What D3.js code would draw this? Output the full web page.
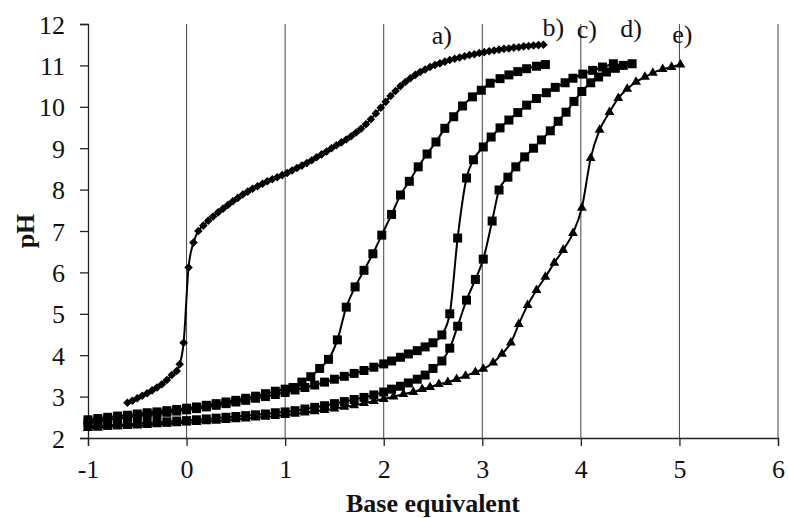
<!DOCTYPE html>
<html>
<head>
<meta charset="utf-8">
<script src="https://cdn.jsdelivr.net/npm/d3@7"></script>
<style>
  body { margin: 0; background: #fff; }
  text { font-family: "Liberation Serif", "Times New Roman", serif; fill: #111; }
</style>
</head>
<body>
<script>
// tick values
var xTicks = [-1, 0, 1, 2, 3, 4, 5, 6];
var yTicks = [2, 3, 4, 5, 6, 7, 8, 9, 10, 11, 12];

// curve labels
var labels = ["a)", "b)", "c)", "d)", "e)"];

// a) diamonds  [base equivalent, pH]
var seriesA = [
  [-0.60, 2.85], [-0.55, 2.90], [-0.50, 2.96], [-0.45, 3.02], [-0.40, 3.08], [-0.35, 3.15],
  [-0.30, 3.22], [-0.25, 3.30], [-0.20, 3.40], [-0.15, 3.52], [-0.10, 3.62], [-0.07, 3.78],
  [-0.03, 4.30], [0.02, 6.12], [0.07, 6.72], [0.12, 7.00], [0.17, 7.13], [0.22, 7.25],
  [0.27, 7.35], [0.32, 7.45], [0.37, 7.54], [0.42, 7.63], [0.47, 7.72], [0.52, 7.80],
  [0.57, 7.88], [0.62, 7.95], [0.67, 8.02], [0.72, 8.08], [0.77, 8.14], [0.82, 8.20],
  [0.87, 8.25], [0.92, 8.30], [0.97, 8.35], [1.02, 8.40], [1.07, 8.46], [1.12, 8.52],
  [1.17, 8.58], [1.22, 8.64], [1.27, 8.71], [1.32, 8.78], [1.37, 8.85], [1.42, 8.92],
  [1.47, 9.00], [1.52, 9.07], [1.57, 9.14], [1.62, 9.21], [1.67, 9.29], [1.72, 9.38],
  [1.77, 9.47], [1.82, 9.58], [1.87, 9.70], [1.92, 9.84], [1.97, 9.98], [2.02, 10.12],
  [2.07, 10.26], [2.12, 10.38], [2.17, 10.50], [2.22, 10.60], [2.27, 10.69], [2.32, 10.77],
  [2.37, 10.84], [2.42, 10.90], [2.47, 10.96], [2.52, 11.01], [2.57, 11.05], [2.62, 11.09],
  [2.67, 11.13], [2.72, 11.16], [2.77, 11.19], [2.82, 11.22], [2.87, 11.25], [2.92, 11.27],
  [2.97, 11.30], [3.02, 11.32], [3.07, 11.34], [3.12, 11.36], [3.17, 11.38], [3.22, 11.40],
  [3.27, 11.41], [3.32, 11.43], [3.37, 11.44], [3.42, 11.46], [3.47, 11.47], [3.52, 11.48],
  [3.57, 11.49], [3.62, 11.50]
];

// b) squares
var seriesB = [
  [-1.0, 2.44], [-0.9, 2.47], [-0.8, 2.50], [-0.7, 2.53], [-0.6, 2.55], [-0.5, 2.58],
  [-0.4, 2.61], [-0.3, 2.63], [-0.2, 2.66], [-0.1, 2.69], [0.0, 2.72], [0.1, 2.75],
  [0.2, 2.79], [0.3, 2.83], [0.4, 2.87], [0.5, 2.91], [0.6, 2.96], [0.7, 3.01],
  [0.8, 3.07], [0.9, 3.13], [1.0, 3.18], [1.08, 3.22], [1.17, 3.35], [1.26, 3.48],
  [1.35, 3.68], [1.44, 3.90], [1.53, 4.37], [1.62, 5.16], [1.71, 5.65], [1.80, 6.05],
  [1.89, 6.45], [1.98, 6.90], [2.08, 7.40], [2.17, 7.87], [2.26, 8.20], [2.35, 8.55],
  [2.44, 8.86], [2.53, 9.15], [2.62, 9.48], [2.71, 9.76], [2.80, 10.02], [2.90, 10.24],
  [2.99, 10.40], [3.08, 10.57], [3.18, 10.68], [3.27, 10.77], [3.36, 10.85], [3.45, 10.92],
  [3.55, 10.98], [3.64, 11.02]
];

// c) squares
var seriesC = [
  [-1.0, 2.38], [-0.9, 2.41], [-0.8, 2.44], [-0.7, 2.47], [-0.6, 2.50], [-0.5, 2.53],
  [-0.4, 2.56], [-0.3, 2.59], [-0.2, 2.62], [-0.1, 2.65], [0.0, 2.68], [0.1, 2.71],
  [0.2, 2.75], [0.3, 2.79], [0.4, 2.83], [0.5, 2.87], [0.6, 2.91], [0.7, 2.96],
  [0.8, 3.00], [0.9, 3.05], [1.0, 3.10], [1.1, 3.16], [1.2, 3.22], [1.3, 3.28],
  [1.4, 3.35], [1.5, 3.42], [1.6, 3.49], [1.7, 3.56], [1.8, 3.63], [1.9, 3.71],
  [2.0, 3.79], [2.08, 3.86], [2.17, 3.95], [2.25, 4.03], [2.34, 4.11], [2.42, 4.20],
  [2.50, 4.30], [2.59, 4.49], [2.67, 5.00], [2.75, 6.83], [2.84, 8.28], [2.91, 8.72],
  [3.01, 9.03], [3.09, 9.27], [3.18, 9.49], [3.27, 9.68], [3.36, 9.86], [3.45, 10.04],
  [3.55, 10.20], [3.65, 10.34], [3.74, 10.47], [3.84, 10.58], [3.92, 10.69], [4.02, 10.79],
  [4.12, 10.88], [4.22, 10.96], [4.33, 11.04]
];

// d) squares
var seriesD = [
  [-1.0, 2.28], [-0.9, 2.29], [-0.8, 2.31], [-0.7, 2.32], [-0.6, 2.33], [-0.5, 2.35],
  [-0.4, 2.36], [-0.3, 2.38], [-0.2, 2.39], [-0.1, 2.41], [0.0, 2.42], [0.1, 2.44],
  [0.2, 2.46], [0.3, 2.48], [0.4, 2.50], [0.5, 2.52], [0.6, 2.54], [0.7, 2.56],
  [0.8, 2.58], [0.9, 2.61], [1.0, 2.63], [1.1, 2.66], [1.2, 2.70], [1.3, 2.74],
  [1.4, 2.78], [1.5, 2.83], [1.6, 2.88], [1.7, 2.93], [1.8, 2.98], [1.9, 3.04],
  [2.0, 3.11], [2.08, 3.18], [2.17, 3.25], [2.25, 3.33], [2.34, 3.42], [2.42, 3.52],
  [2.50, 3.68], [2.59, 3.86], [2.67, 4.17], [2.75, 4.70], [2.84, 5.33], [2.93, 5.83],
  [3.01, 6.32], [3.10, 7.24], [3.17, 7.99], [3.26, 8.30], [3.34, 8.55], [3.43, 8.79],
  [3.52, 9.00], [3.60, 9.20], [3.69, 9.42], [3.77, 9.65], [3.85, 9.87], [3.93, 10.13],
  [4.01, 10.37], [4.10, 10.58], [4.18, 10.72], [4.26, 10.84], [4.35, 10.93], [4.43, 11.00],
  [4.52, 11.04]
];

// e) triangles
var seriesE = [
  [-1.0, 2.24], [-0.9, 2.25], [-0.8, 2.27], [-0.7, 2.28], [-0.6, 2.29], [-0.5, 2.30],
  [-0.4, 2.31], [-0.3, 2.33], [-0.2, 2.34], [-0.1, 2.35], [0.0, 2.37], [0.1, 2.38],
  [0.2, 2.40], [0.3, 2.41], [0.4, 2.43], [0.5, 2.45], [0.6, 2.47], [0.7, 2.49],
  [0.8, 2.51], [0.9, 2.53], [1.0, 2.55], [1.1, 2.58], [1.2, 2.61], [1.3, 2.64],
  [1.4, 2.67], [1.5, 2.71], [1.6, 2.75], [1.7, 2.79], [1.8, 2.84], [1.9, 2.89],
  [2.0, 2.94], [2.1, 3.00], [2.2, 3.06], [2.3, 3.11], [2.39, 3.18], [2.47, 3.23],
  [2.56, 3.30], [2.65, 3.35], [2.74, 3.42], [2.83, 3.50], [2.93, 3.59], [3.01, 3.67],
  [3.11, 3.82], [3.20, 4.03], [3.29, 4.30], [3.37, 4.75], [3.46, 5.21], [3.55, 5.57],
  [3.64, 5.89], [3.73, 6.23], [3.82, 6.54], [3.92, 6.95], [4.01, 7.56], [4.10, 8.76],
  [4.19, 9.44], [4.29, 9.87], [4.38, 10.21], [4.47, 10.43], [4.56, 10.60], [4.65, 10.72],
  [4.73, 10.82], [4.83, 10.91], [4.92, 10.96], [5.01, 11.02]
];

// label anchor points, in data units
var labelX = [2.59, 3.72, 4.06, 4.51, 5.03];
var labelY = [11.52, 11.71, 11.65, 11.69, 11.53];

var w = 788, h = 518;

var svg = d3.select("body")
  .append("svg")
  .attr("width", w)
  .attr("height", h);

var x = d3.scaleLinear().domain([-1, 6]).range([88, 778]);
var y = d3.scaleLinear().domain([2, 12]).range([438, 24]);

// vertical gridlines
svg.append("g")
  .selectAll("line")
  .data(xTicks.slice(1))
  .join("line")
  .attr("x1", function(d){ return x(d); })
  .attr("x2", function(d){ return x(d); })
  .attr("y1", y(2))
  .attr("y2", y(12))
  .style("stroke", "#444")
  .style("stroke-width", 1);

// axes (plain hyphen for negatives, like the original)
var fmt = function(d){ return String(d); };

var xAxis = svg.append("g")
  .attr("transform", "translate(0," + y(2) + ")")
  .call(d3.axisBottom(x).tickValues(xTicks).tickSize(8).tickPadding(14).tickFormat(fmt));

var yAxis = svg.append("g")
  .attr("transform", "translate(" + x(-1) + ",0)")
  .call(d3.axisLeft(y).tickValues(yTicks).tickSize(8).tickPadding(15).tickFormat(fmt));

[xAxis, yAxis].forEach(function(g){
  g.select(".domain").style("stroke", "#222").style("stroke-width", 1.3);
  g.selectAll(".tick line").style("stroke", "#222").style("stroke-width", 1.3);
  g.selectAll(".tick text")
    .style("font-size", "26px")
    .style("font-family", "'Liberation Serif', 'Times New Roman', serif")
    .style("fill", "#111");
});
yAxis.selectAll(".tick text").attr("dy", "0.35em");

// axis titles
svg.append("text")
  .attr("x", (x(-1) + x(6)) / 2)
  .attr("y", 512)
  .attr("text-anchor", "middle")
  .style("font-size", "26px")
  .style("font-weight", "bold")
  .text("Base equivalent");

svg.append("text")
  .attr("transform", "translate(34," + ((y(2) + y(12)) / 2) + ") rotate(-90)")
  .attr("text-anchor", "middle")
  .style("font-size", "26px")
  .style("font-weight", "bold")
  .text("pH");

// curves
var line = d3.line()
  .x(function(d){ return x(d[0]); })
  .y(function(d){ return y(d[1]); })
  .curve(d3.curveMonotoneX);

var diamond = "M0,-4.3L4.3,0L0,4.3L-4.3,0Z";
var square = d3.symbol().type(d3.symbolSquare).size(81)();
var triangle = d3.symbol().type(d3.symbolTriangle).size(42)();

var series = [
  { data: seriesE, marker: triangle },
  { data: seriesD, marker: square },
  { data: seriesC, marker: square },
  { data: seriesB, marker: square },
  { data: seriesA, marker: diamond }
];

series.forEach(function(s){
  svg.append("path")
    .datum(s.data)
    .attr("d", line)
    .style("fill", "none")
    .style("stroke", "#000")
    .style("stroke-width", 2);

  svg.append("g")
    .selectAll("path")
    .data(s.data)
    .join("path")
    .attr("d", s.marker)
    .attr("transform", function(d){ return "translate(" + x(d[0]) + "," + y(d[1]) + ")"; })
    .style("fill", "#000");
});

// curve labels
svg.append("g")
  .selectAll("text")
  .data(labels)
  .join("text")
  .attr("x", function(d, i){ return x(labelX[i]); })
  .attr("y", function(d, i){ return y(labelY[i]); })
  .attr("text-anchor", "middle")
  .style("font-size", "26px")
  .text(function(d){ return d; });
</script>
</body>
</html>
